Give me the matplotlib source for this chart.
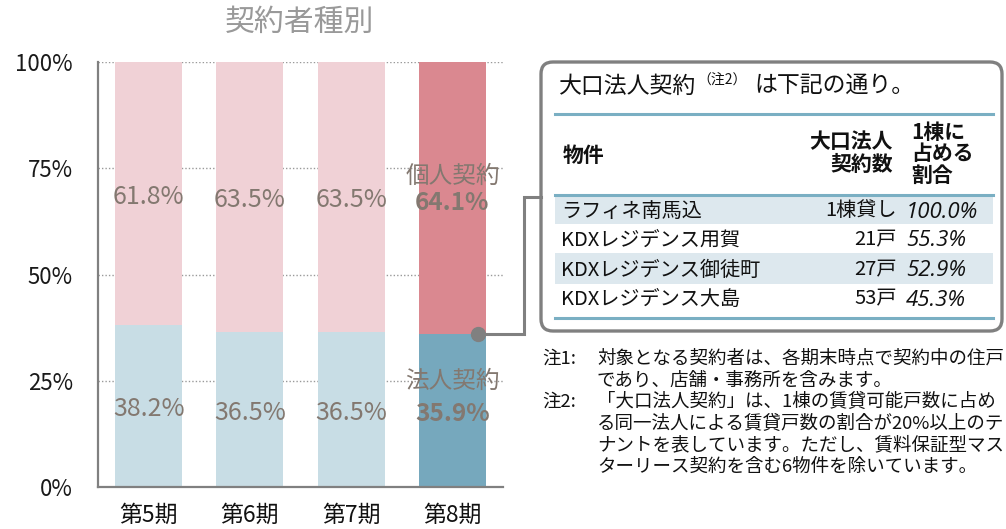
import matplotlib
matplotlib.use("Agg")
import matplotlib.pyplot as plt
from matplotlib.patches import FancyBboxPatch, Rectangle

plt.rcParams['font.family'] = ['Noto Sans CJK JP', 'DejaVu Sans']

# --- data -------------------------------------------------------------
periods = ["第5期", "第6期", "第7期", "第8期"]
corporate = [38.2, 36.5, 36.5, 35.9]     # 法人契約 (%)
individual = [61.8, 63.5, 63.5, 64.1]    # 個人契約 (%)
y_ticks = [0, 25, 50, 75, 100]
y_tick_labels = ["0%", "25%", "50%", "75%", "100%"]

table_props = ["ラフィネ南馬込", "KDXレジデンス用賀", "KDXレジデンス御徒町", "KDXレジデンス大島"]
table_counts = ["1棟貸し", "21戸", "27戸", "53戸"]
table_shares = ["100.0%", "55.3%", "52.9%", "45.3%"]

notes = [
    ("注1:", ["対象となる契約者は、各期末時点で契約中の住戸",
              "であり、店舗・事務所を含みます。"]),
    ("注2:", ["「大口法人契約」は、1棟の賃貸可能戸数に占め",
              "る同一法人による賃貸戸数の割合が20%以上のテ",
              "ナントを表しています。ただし、賃料保証型マス",
              "ターリース契約を含む6物件を除いています。"]),
]

# --- colours ----------------------------------------------------------
pink_light, pink_dark = "#F0D1D6", "#DA8890"
blue_light, blue_dark = "#C8DDE5", "#76A8BD"
label_col = "#837870"
grey = "#808080"
rule_blue = "#7AAFC3"
shade = "#DDE8EE"
ink = "#111111"

W, H = 1006, 529
fig = plt.figure(figsize=(W / 100, H / 100), dpi=100)

# --- stacked bar chart ------------------------------------------------
ax = fig.add_axes([98 / W, 1 - 487 / H, 405 / W, 425 / H])
x = list(range(len(periods)))
lower_cols = [blue_light] * 3 + [blue_dark]
upper_cols = [pink_light] * 3 + [pink_dark]
ax.bar(x, corporate, width=0.66, color=lower_cols, zorder=2)
ax.bar(x, individual, width=0.66, bottom=corporate, color=upper_cols, zorder=2)

ax.set_xlim(-0.5, 3.5)
ax.set_ylim(0, 100)
ax.set_yticks(y_ticks)
ax.set_yticklabels(y_tick_labels)
ax.set_xticks(x)
ax.set_xticklabels(periods)
ax.tick_params(axis='y', length=0, pad=18, labelsize=16, labelcolor="#1a1a1a")
ax.tick_params(axis='x', length=0, pad=12, labelsize=16.5, labelcolor=ink)
for s in ("top", "right"):
    ax.spines[s].set_visible(False)
for s in ("left", "bottom"):
    ax.spines[s].set_color(grey)
    ax.spines[s].set_linewidth(1.6)
for yv in y_ticks[1:]:
    ax.axhline(yv, color="#999999", lw=1.0, ls=(0, (1, 1.5)), zorder=1)

# segment labels, nudged slightly so the glyphs sit on the segment midpoint
nudge = -0.8
for i in range(3):
    ax.text(i, corporate[i] + individual[i] * 0.5 + nudge, f"{individual[i]}%",
            ha="center", va="center", fontsize=18, color=label_col, zorder=3)
    ax.text(i, corporate[i] * 0.5 + nudge, f"{corporate[i]}%",
            ha="center", va="center", fontsize=18, color=label_col, zorder=3)

i = 3
ax.text(i, 73.0, "個人契約", ha="center", va="center", fontsize=17, color=label_col, zorder=3)
ax.text(i, 66.8, f"{individual[i]}%", ha="center", va="center", fontsize=17.5,
        fontweight="bold", color=label_col, zorder=3)
ax.text(i, 24.9, "法人契約", ha="center", va="center", fontsize=17, color=label_col, zorder=3)
ax.text(i, 17.2, f"{corporate[i]}%", ha="center", va="center", fontsize=17.5,
        fontweight="bold", color=label_col, zorder=3)

fig.text(300 / W, 1 - 22 / H, "契約者種別", ha="center", va="center",
         fontsize=21.5, color="#999999")

# --- overlay in pixel coordinates for the call-out panel -------------
ov = fig.add_axes([0, 0, 1, 1], zorder=5)
ov.set_xlim(0, W)
ov.set_ylim(H, 0)
ov.axis("off")

# connector from the corporate/individual boundary of the last bar
dot_disp = ax.transData.transform((3.25, corporate[3]))
dot = ov.transData.inverted().transform(dot_disp)
ov.plot([dot[0], 524, 524, 541], [dot[1], dot[1], 197, 197], color=grey, lw=2.2,
        solid_joinstyle="miter", zorder=4)
ov.plot([dot[0]], [dot[1]], "o", color=grey, ms=10, zorder=5)

box = FancyBboxPatch((541, 62), 461, 269, boxstyle="round,pad=0,rounding_size=12",
                     fc="white", ec=grey, lw=2.4, zorder=3)
ov.add_patch(box)

# panel heading
ov.text(559, 86, "大口法人契約", ha="left", va="center", fontsize=16.5, color=ink, zorder=6)
ov.text(697, 80, "（注2）", ha="left", va="center", fontsize=10, color=ink, zorder=6)
ov.text(754, 86, "は下記の通り。", ha="left", va="center", fontsize=16.5, color=ink, zorder=6)

# table rules and shading
row_edges = [195, 224, 253, 284, 318]
for k in range(len(table_props)):
    top, bot = row_edges[k], row_edges[k + 1]
    if k % 2 == 0:
        ov.add_patch(Rectangle((555, top), 438, bot - top, fc=shade, ec="none", zorder=4))
for yv in (114, 195, 318):
    ov.plot([555, 993], [yv, yv], color=rule_blue, lw=2.2, zorder=5)

# header
ov.text(563, 155, "物件", ha="left", va="center", fontsize=15, fontweight="bold",
        color=ink, zorder=6)
ov.text(893, 153, "大口法人\n契約数", ha="right", va="center", fontsize=15,
        fontweight="bold", color=ink, linespacing=1.1, zorder=6)
ov.text(911, 154, "1棟に\n占める\n割合", ha="left", va="center", fontsize=15,
        fontweight="bold", color=ink, linespacing=1.05, zorder=6)

row_y = [211, 240, 270, 299]
for k, yc in enumerate(row_y):
    ov.text(561, yc, table_props[k], ha="left", va="center", fontsize=14.5,
            color=ink, zorder=6)
    ov.text(897, yc, table_counts[k], ha="right", va="center", fontsize=14.5,
            color=ink, zorder=6)
    ov.text(906, yc + 1, table_shares[k], ha="left", va="center", fontsize=16,
            style="italic", family=["Open Sans", "DejaVu Sans"], color=ink, zorder=6)

# notes
yline = 359
for head, lines in notes:
    ov.text(542, yline, head, ha="left", va="center", fontsize=13.3, color=ink, zorder=6)
    for ln in lines:
        ov.text(597, yline, ln, ha="left", va="center", fontsize=13.3, color=ink,
                zorder=6, clip_on=False)
        yline += 21.5

fig.savefig("out.png", dpi=100)
